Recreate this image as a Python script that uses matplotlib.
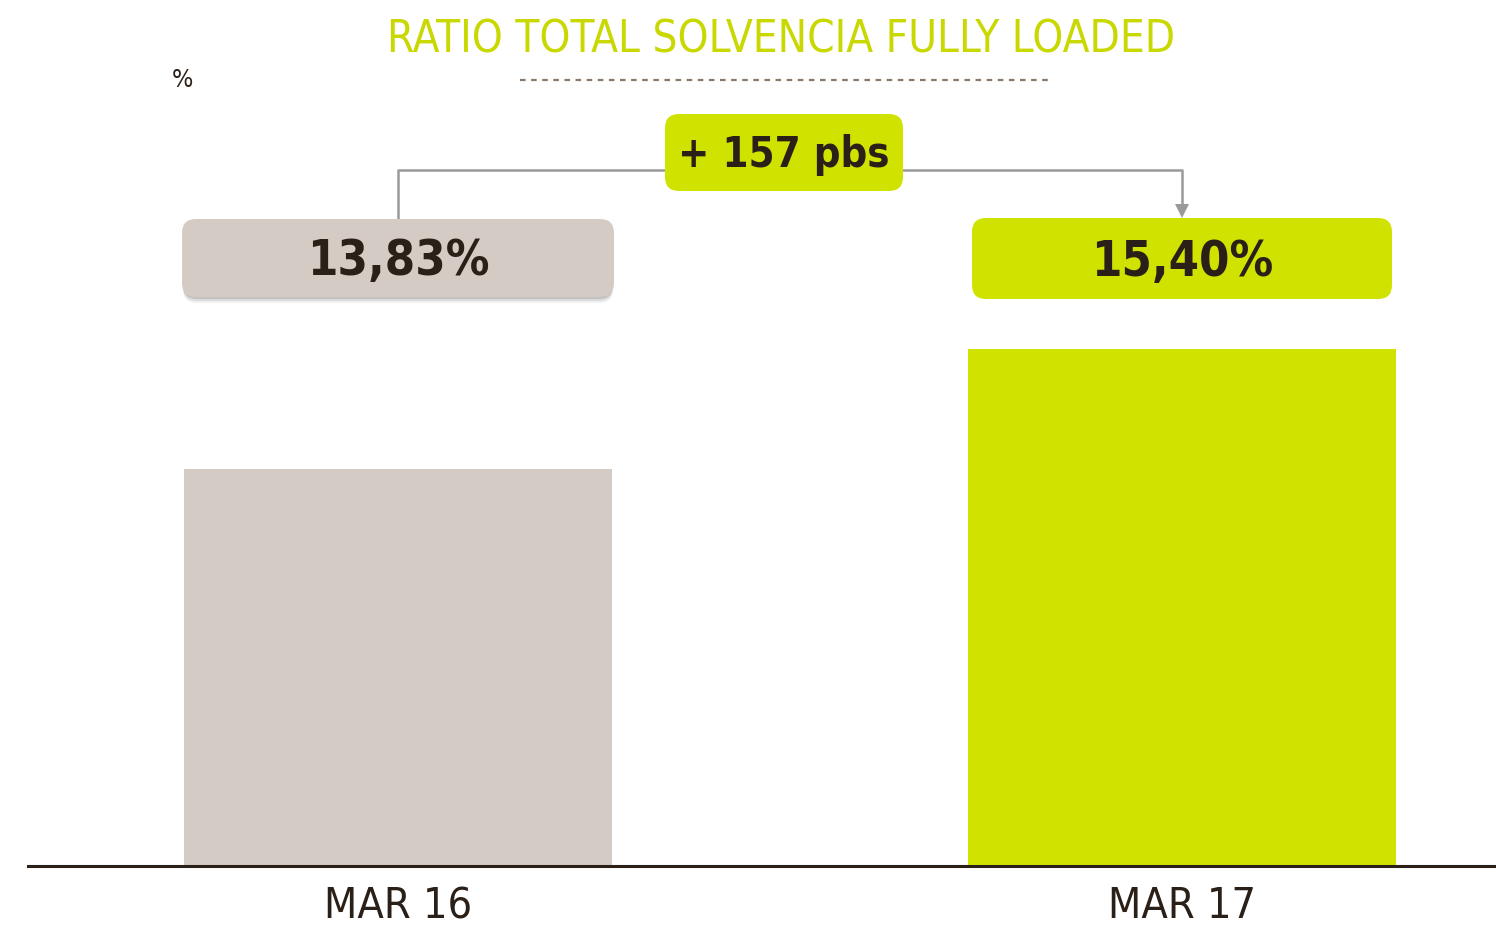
import matplotlib
matplotlib.use("Agg")
import matplotlib.pyplot as plt
from matplotlib.patches import FancyBboxPatch
from matplotlib.transforms import Affine2D

# Datos
categorias = ["MAR 16", "MAR 17"]
valores = [13.83, 15.40]
etiquetas = ["13,83%", "15,40%"]
variacion = "+ 157 pbs"
titulo = "RATIO TOTAL SOLVENCIA FULLY LOADED"

# Colores
GRIS = "#d5cbc5"
VERDE = "#d0e300"
VERDE_TIT = "#c8d800"
OSCURO = "#2a2018"

W, H = 1496, 925
plt.rcParams['font.family'] = ['DejaVu Sans']
plt.rcParams['font.stretch'] = 'condensed'

fig = plt.figure(figsize=(W / 100, H / 100), dpi=100)
ax = fig.add_axes([28 / W, 1 - 866 / H, 1 - 28 / W, 866 / H])

x = list(range(len(categorias)))
ax.bar(x, valores, width=0.545, color=[GRIS, VERDE], zorder=2)
ax.set_xlim(-0.472, 1.4005)
ax.set_ylim(8.636, 19.97)

for s in ["top", "right", "left"]:
    ax.spines[s].set_visible(False)
ax.spines["bottom"].set_linewidth(2.2)
ax.spines["bottom"].set_color(OSCURO)
ax.set_yticks([])
ax.set_xticks(x)
ax.set_xticklabels(categorias, fontsize=31, color=OSCURO)
ax.tick_params(axis="x", length=0, pad=14)

# transformacion en pixeles (origen arriba a la izquierda)
px = Affine2D().scale(1, -1).translate(0, H).scale(1 / W, 1 / H) + fig.transFigure


def caja(x0, y0, x1, y1, color, sombra=False):
    if sombra:
        for i, a in enumerate([0.3, 0.2, 0.12]):
            fig.patches.append(FancyBboxPatch(
                (x0 + 1, y0 + 2 + 2 * i), x1 - x0 - 2, y1 - y0, boxstyle="round,pad=0,rounding_size=14",
                transform=px, fc="#8a8a8a", ec="none", alpha=a, zorder=3))
    fig.patches.append(FancyBboxPatch(
        (x0, y0), x1 - x0, y1 - y0, boxstyle="round,pad=0,rounding_size=14",
        transform=px, fc=color, ec="none", zorder=4))


# conector
fig.lines.append(plt.Line2D([398, 398, 1182, 1182], [218, 170, 170, 206],
                            transform=px, color="#9a9a9a", lw=1.8, zorder=2))
fig.patches.append(plt.Polygon([[1175, 204], [1189, 204], [1182, 218]], closed=True,
                               transform=px, fc="#9a9a9a", ec="none", zorder=2))

caja(182, 219, 614, 297, GRIS, sombra=True)
caja(972, 218, 1392, 299, VERDE)
caja(665, 114, 903, 191, VERDE)

fig.text(398 / W, 1 - 261 / H, etiquetas[0], ha="center", va="center",
         fontsize=35, fontweight="bold", color=OSCURO, zorder=5)
fig.text(1182 / W, 1 - 262 / H, etiquetas[1], ha="center", va="center",
         fontsize=35, fontweight="bold", color=OSCURO, zorder=5)
fig.text(784 / W, 1 - 155 / H, variacion, ha="center", va="center",
         fontsize=30, fontweight="bold", color=OSCURO, zorder=5)

# titulo
fig.text(781 / W, 1 - 40 / H, titulo, ha="center", va="center",
         fontsize=31.5, color=VERDE_TIT)
fig.lines.append(plt.Line2D([520, 1048], [80, 80], transform=px, color="#8a7a6a",
                            lw=1.6, ls=(0, (2.5, 2.5))))
fig.text(182 / W, 1 - 80 / H, "%", ha="center", va="center", fontsize=18, color=OSCURO)

fig.savefig("out.png", dpi=100)
